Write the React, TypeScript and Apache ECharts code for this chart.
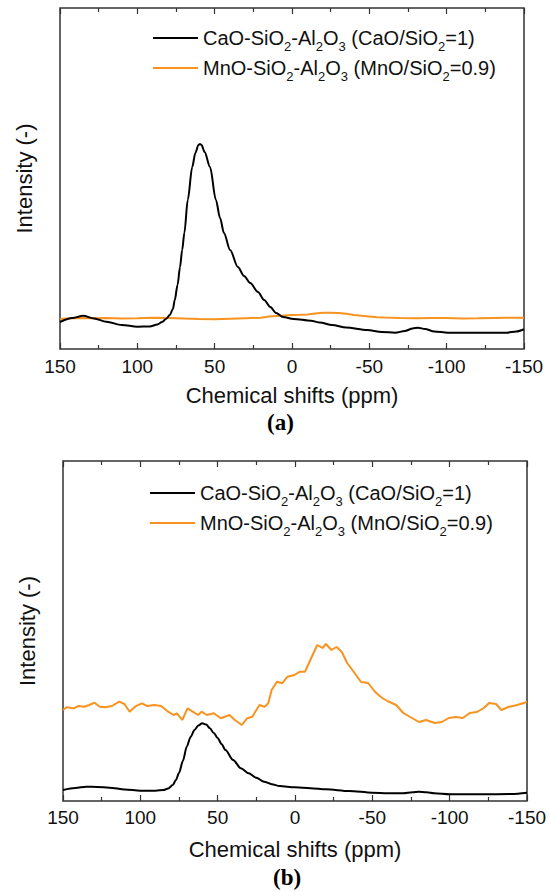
import React, { useEffect, useRef } from "react";
import * as echarts from "echarts";

// ---------- data (chemical shift in ppm, intensity in arbitrary units) ----------
const nameCaO = "CaO-SiO2-Al2O3 (CaO/SiO2=1)";
const nameMnO = "MnO-SiO2-Al2O3 (MnO/SiO2=0.9)";

const xTicks = [150, 100, 50, 0, -50, -100, -150];

// panel (a)
const caoA_shift = [150, 142, 135, 128, 120, 110, 100, 92, 87, 84, 81.5, 79, 77, 75.8, 74, 72.4, 71, 69.6, 67.4, 64.5, 62.5, 60.5, 59.5, 58.5, 56.5, 53, 49.2, 46.5, 44, 40, 35, 31, 27, 22, 18, 14, 10.3, 5.8, -1, -12.3, -18, -25.9, -35, -48.6, -58, -66.7, -73, -78, -81.5, -86, -92, -100.8, -120, -139, -145, -150];
const caoA_int = [27, 31, 33.3, 30.5, 27.3, 24, 22.3, 22.5, 24.5, 27, 30, 34, 40, 49, 64, 82, 99, 116, 149, 182, 196, 204, 205, 204, 197, 182, 149, 131, 116, 99, 82, 73, 66, 57, 49, 42, 36, 32, 30, 28.3, 26.5, 24, 21.5, 19, 17, 16.3, 18, 20.5, 21.3, 20, 17.5, 16.3, 16.2, 16.3, 17.5, 19.7];

const mnoA_shift = [150, 145, 140, 130, 120, 110, 100, 90, 80, 70, 60, 50, 40, 30, 20, 15, 10, 5, 0, -5, -10, -15, -20, -25, -30, -35, -40, -45, -50, -55, -60, -70, -80, -90, -100, -110, -120, -130, -140, -150];
const mnoA_int = [30, 30.5, 31, 30.8, 31, 30.6, 30.8, 31.2, 31, 30.6, 30, 29.7, 30.3, 30.8, 31.3, 32.5, 33, 33.5, 34, 34.2, 34.5, 35.5, 36.3, 36.2, 36, 35.2, 34, 33.2, 32.5, 31.8, 31.5, 31, 30.7, 31, 31, 30.6, 30.7, 31, 31.2, 31.3];

// panel (b)
const caoB_shift = [150, 142, 135, 128, 120, 110, 100, 90, 85, 82, 79, 77, 75, 72.5, 70, 67.5, 65, 62.5, 60, 57.5, 55, 52.5, 50, 47.5, 45, 40, 35, 30, 25, 20, 15, 10, 0, -10, -20, -35, -50, -60, -70, -76, -80, -85, -90, -100, -120, -140, -150];
const caoB_int = [11, 13, 14.3, 14, 13.3, 11.5, 10.3, 10.3, 11, 12.5, 16, 21, 28, 40, 54.3, 64, 71, 75.5, 77.7, 76.5, 72.7, 68, 63, 57, 51, 41, 32.7, 27.7, 23.3, 19.3, 16.8, 15, 13.7, 12.8, 11.7, 10, 8.3, 7.8, 7.7, 8.7, 9.3, 8.7, 7.7, 6.7, 6.7, 7, 8.3];

const mnoB_shift = [150, 147.7, 143.2, 139.8, 136.4, 133, 129.6, 126.2, 122.8, 118.3, 113.7, 110.3, 106.9, 103.5, 99, 95.6, 91, 86.5, 82, 78.6, 76.3, 72.9, 69.5, 66.1, 62.7, 60.4, 57, 52.5, 48, 42.3, 38.9, 34.4, 31, 27.6, 23, 19.6, 17.3, 15.1, 11.7, 8.3, 4.9, 0.3, -3.1, -6.5, -9.9, -14.4, -17.8, -20, -23.5, -26.9, -30.3, -33.7, -37.1, -42.7, -47.3, -51.8, -56.4, -59.8, -65.4, -70, -74.5, -80.2, -84.7, -90.4, -94.9, -99.4, -104, -108.5, -113, -117.6, -122.1, -125.5, -130, -133.4, -138, -143.6, -150];
const mnoB_int = [91, 93.7, 92.7, 95, 94.3, 96, 98.3, 94.3, 93.7, 95, 99.3, 97, 89.3, 94.3, 97.7, 95, 96, 95, 89.3, 86, 87.7, 81, 92.7, 89.3, 86, 89.3, 86, 87.7, 82.7, 86, 81, 76, 82.7, 84.3, 96, 94.3, 97.7, 111, 119.3, 117.7, 124.3, 126, 129.3, 129.3, 141, 156, 153, 157, 151, 154, 149, 138, 131, 119, 118, 109, 103, 100, 96, 88, 84, 79, 81, 78, 79, 83, 84, 83, 88, 89, 93, 98, 97, 91, 94, 96, 99];

const zip = (xs: number[], ys: number[]) => xs.map((x, i) => [x, ys[i]]);

const BLACK = "#000000";
const ORANGE = "#F7931E";
const FONT = "Liberation Sans, Arial, sans-serif";

export default function App() {
  const ref = useRef<HTMLDivElement>(null);

  useEffect(() => {
    if (!ref.current) return;
    const chart = echarts.init(ref.current, undefined, { renderer: "svg" });

    const grids = [
      { left: 60, top: 8, width: 464, height: 341 },
      { left: 63, top: 461, width: 464, height: 340 },
    ];

    const bottomAxis = (gi: number, labelMargin: number, nameGap: number) => ({
      type: "value",
      gridIndex: gi,
      position: "bottom",
      inverse: true,
      min: -150,
      max: 150,
      interval: 50,
      name: "Chemical shifts (ppm)",
      nameLocation: "middle",
      nameGap,
      nameTextStyle: { fontSize: 22, color: "#111", fontFamily: FONT },
      axisLine: { show: false },
      axisTick: { show: true, inside: true, length: 6, lineStyle: { color: "#333", width: 1.2 } },
      minorTick: { show: true, splitNumber: 2, length: 4, lineStyle: { color: "#333", width: 1.2 } },
      axisLabel: {
        show: true,
        margin: labelMargin,
        fontSize: 19,
        color: "#111",
        fontFamily: FONT,
        formatter: (v: number) => (xTicks.includes(v) ? String(v) : ""),
      },
      splitLine: { show: false },
    });
    const topAxis = (gi: number) => ({
      type: "value",
      gridIndex: gi,
      position: "top",
      inverse: true,
      min: -150,
      max: 150,
      interval: 50,
      axisLine: { show: false },
      axisTick: { show: true, inside: true, length: 6, lineStyle: { color: "#333", width: 1.2 } },
      minorTick: { show: true, splitNumber: 2, length: 4, lineStyle: { color: "#333", width: 1.2 } },
      axisLabel: { show: false },
      splitLine: { show: false },
    });
    const leftAxis = (gi: number, max: number) => ({
      type: "value",
      gridIndex: gi,
      min: 0,
      max,
      name: "Intensity (-)",
      nameLocation: "middle",
      nameGap: 25,
      nameTextStyle: { fontSize: 22, color: "#111", fontFamily: FONT },
      axisLine: { show: false },
      axisTick: { show: false },
      axisLabel: { show: false },
      splitLine: { show: false },
    });

    const legendFormatter = (name: string) =>
      "{n|" + name.replace(/([A-Za-z])(\d)/g, "$1}{s|$2}{n|") + "}";
    const legendRich = {
      n: { fontSize: 20, lineHeight: 30, color: "#111", fontFamily: FONT },
      s: { fontSize: 13, lineHeight: 11, verticalAlign: "bottom", color: "#111", fontFamily: FONT },
    };
    const legend = (left: number, top: number) => ({
      show: true,
      orient: "vertical",
      left,
      top,
      padding: 0,
      itemGap: 5,
      itemWidth: 45,
      itemHeight: 2,
      icon: "rect",
      selectedMode: false,
      data: [nameCaO, nameMnO],
      formatter: legendFormatter,
      textStyle: { rich: legendRich },
    });

    const lineSeries = (name: string, color: string, data: number[][], gi: number, smooth: boolean | number) => ({
      type: "line",
      name,
      xAxisIndex: gi * 2,
      yAxisIndex: gi,
      data,
      showSymbol: false,
      symbol: "none",
      smooth,
      smoothMonotone: "x",
      lineStyle: { color, width: 2 },
      itemStyle: { color },
    });

    chart.setOption({
      animation: false,
      backgroundColor: "#ffffff",
      grid: grids.map((g) => ({ ...g, show: true, borderColor: "#333", borderWidth: 1.5, backgroundColor: "transparent" })),
      xAxis: [bottomAxis(0, 8, 35), topAxis(0), bottomAxis(1, 7, 37), topAxis(1)],
      yAxis: [leftAxis(0, 341), leftAxis(1, 340)],
      legend: [legend(153, 28), legend(150, 483)],
      graphic: [
        {
          type: "text",
          left: 267,
          top: 411,
          style: { text: "(a)", fontSize: 23, fontWeight: "bold", fontFamily: "Liberation Serif, Times New Roman, serif", fill: "#000" },
        },
        {
          type: "text",
          left: 273,
          top: 866,
          style: { text: "(b)", fontSize: 23, fontWeight: "bold", fontFamily: "Liberation Serif, Times New Roman, serif", fill: "#000" },
        },
      ],
      series: [
        lineSeries(nameMnO, ORANGE, zip(mnoA_shift, mnoA_int), 0, false),
        lineSeries(nameCaO, BLACK, zip(caoA_shift, caoA_int), 0, 0.3),
        lineSeries(nameMnO, ORANGE, zip(mnoB_shift, mnoB_int), 1, false),
        lineSeries(nameCaO, BLACK, zip(caoB_shift, caoB_int), 1, 0.3),
      ],
    });

    return () => chart.dispose();
  }, []);

  return (
    <div
      ref={ref}
      style={{ position: "absolute", left: 0, top: 0, width: 550, height: 891, background: "#fff" }}
    />
  );
}
